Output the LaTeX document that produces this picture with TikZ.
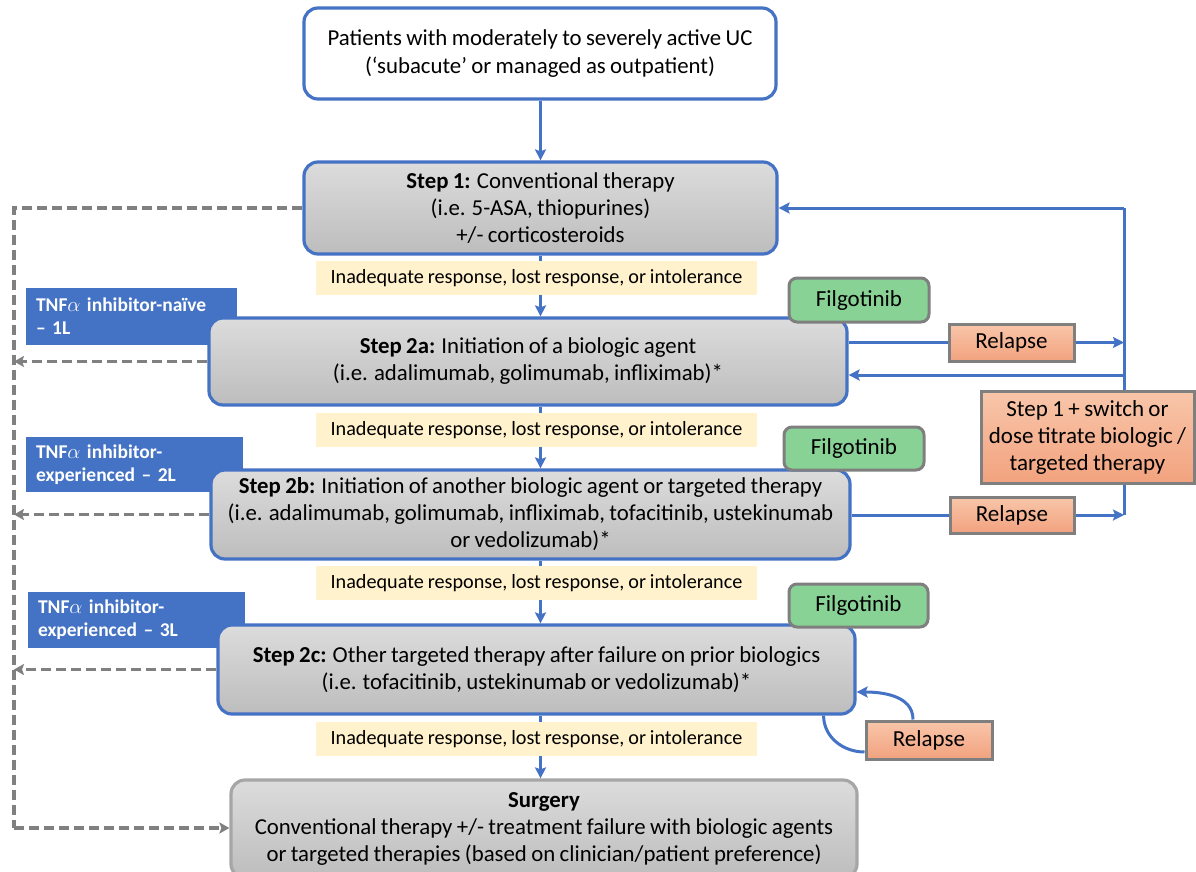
\documentclass[tikz,border=0pt]{standalone}
\usepackage{fontspec}
\setmainfont{Carlito}[WordSpace=0.85]
\usetikzlibrary{arrows.meta}
\definecolor{bl}{HTML}{4472C4}
\definecolor{gtop}{HTML}{DCDCDC}
\definecolor{gbot}{HTML}{BDBDBD}
\definecolor{ylw}{HTML}{FFF2CC}
\definecolor{grn}{HTML}{89D296}
\definecolor{edgegray}{HTML}{7F7F7F}
\definecolor{dgray}{HTML}{808080}
\definecolor{stop}{HTML}{F8C6AA}
\definecolor{sbot}{HTML}{F2A27E}
\tikzset{
  base/.style={inner sep=0pt, align=center, font=\fontsize{22.8}{27}\selectfont},
  topbox/.style={base, draw=bl, line width=3.2pt, rounded corners=14pt, fill=white, font=\fontsize{22.8}{28}\selectfont},
  stepbox/.style={base, draw=bl, line width=3.2pt, rounded corners=14pt, top color=gtop, bottom color=gbot},
  surgbox/.style={base, draw=gray!70, line width=3.2pt, rounded corners=14pt, top color=gtop, bottom color=gbot},
  ylabel/.style={base, fill=ylw, minimum width=441pt, minimum height=34pt, font=\fontsize{20.2}{24}\selectfont},
  filbox/.style={base, draw=edgegray, line width=3pt, rounded corners=8pt, fill=grn, minimum width=140pt, minimum height=44pt, font=\fontsize{23}{26}\selectfont},
  relbox/.style={base, draw=edgegray, line width=3pt, top color=stop, bottom color=sbot, font=\fontsize{23}{27}\selectfont},
  tnfbox/.style={inner sep=0pt, fill=bl, text=white, align=left, font=\bfseries\fontsize{19.5}{23}\selectfont},
  barrow/.style={draw=bl, line width=3pt, -{Stealth[length=11pt,width=11pt,inset=2pt]}},
  bline/.style={draw=bl, line width=3pt},
  darrow/.style={draw=dgray, line width=3.2pt, dash pattern=on 10pt off 5pt, -{Stealth[length=10pt,width=11pt,inset=2pt]}},
  dline/.style={draw=dgray, line width=3.2pt, dash pattern=on 10pt off 5pt}
}
\begin{document}
\begin{tikzpicture}[x=1pt,y=-1pt]
\clip (0,0) rectangle (1196,872);
% main boxes
\node[topbox, minimum width=472pt, minimum height=91pt] (top) at (540,53.5)
  {Patients with moderately to severely active UC\\(‘subacute’ or managed as outpatient)};
\node[tnfbox, minimum width=211pt, minimum height=57pt, text width=191pt] (t1) at (131.5,316.5)
  {TNF$\alpha$ inhibitor-naïve\\– 1L};
\node[tnfbox, minimum width=217pt, minimum height=55pt, text width=197pt] (t2) at (134.5,464.5)
  {TNF$\alpha$ inhibitor-\\experienced – 2L};
\node[tnfbox, minimum width=217pt, minimum height=56pt, text width=197pt] (t3) at (136.5,620)
  {TNF$\alpha$ inhibitor-\\experienced – 3L};

% coordinates for connectors
\coordinate (jt) at (1124,208);
\coordinate (jm) at (1124,375);
\coordinate (jb) at (1124,515);
\coordinate (dtop) at (14,208);
\coordinate (dbot) at (14,828);

% right-hand blue return line (drawn before boxes)
\draw[bline] (jb) -- (jt);

\node[stepbox, minimum width=473pt, minimum height=92pt] (s1) at (540.5,208)
  {\textbf{Step 1:} Conventional therapy\\(i.e. 5-ASA, thiopurines)\\+/- corticosteroids};
\node[stepbox, minimum width=638pt, minimum height=87pt] (s2a) at (528,361.5)
  {\textbf{Step 2a:} Initiation of a biologic agent\\(i.e. adalimumab, golimumab, infliximab)*};
\node[stepbox, minimum width=639pt, minimum height=89pt] (s2b) at (530.5,514.5)
  {\textbf{Step 2b:} Initiation of another biologic agent or targeted therapy\\(i.e. adalimumab, golimumab, infliximab, tofacitinib, ustekinumab\\or vedolizumab)*};
\node[stepbox, minimum width=637pt, minimum height=89pt] (s2c) at (536.5,669.5)
  {\textbf{Step 2c:} Other targeted therapy after failure on prior biologics\\(i.e. tofacitinib, ustekinumab or vedolizumab)*};
\node[surgbox, minimum width=626pt, minimum height=98pt] (surg) at (544,829)
  {\textbf{Surgery}\\Conventional therapy +/- treatment failure with biologic agents\\or targeted therapies (based on clinician/patient preference)};

% vertical flow arrows
\draw[barrow] (top.south -| s1.south) -- (s1.south |- s1.north);
\draw[barrow] (s1.south) -- (s1.south |- s2a.north);
\draw[barrow] (s1.south |- s2a.south) -- (s1.south |- s2b.north);
\draw[barrow] (s1.south |- s2b.south) -- (s1.south |- s2c.north);
\draw[barrow] (s1.south |- s2c.south) -- (s1.south |- surg.north);

% response labels
\node[ylabel] (l1) at (536.5,278) {Inadequate response, lost response, or intolerance};
\node[ylabel] (l2) at (536.5,430) {Inadequate response, lost response, or intolerance};
\node[ylabel] (l3) at (536.5,583) {Inadequate response, lost response, or intolerance};
\node[ylabel] (l4) at (536.5,739) {Inadequate response, lost response, or intolerance};

% filgotinib
\node[filbox] (f1) at (859,300) {Filgotinib};
\node[filbox, minimum height=43pt] (f2) at (854,448.5) {Filgotinib};
\node[filbox, minimum width=139pt, minimum height=43pt] (f3) at (858.5,605.5) {Filgotinib};

% relapse boxes
\node[relbox, minimum width=125pt, minimum height=37pt] (r1) at (1011.5,342.5) {Relapse};
\node[relbox, minimum width=124pt, minimum height=36pt] (r2) at (1012,515) {Relapse};
\node[relbox, minimum width=126pt, minimum height=38pt] (r3) at (929,740) {Relapse};

% relapse connectors
\draw[bline] (s2a.east |- r1.west) -- (r1.west);
\draw[barrow] (r1.east) -- (r1.east -| jt);
\draw[bline] (s2b.east |- r2.west) -- (r2.west);
\draw[barrow] (r2.east) -- (r2.east -| jt);
\draw[barrow] (jt) -- (s1.east);
\draw[barrow] (jm) -- (s2a.east |- jm);
\draw[bline] ([xshift=-33pt]s2c.south east) to[out=-90,in=180] ([yshift=-12pt]r3.west);
\draw[barrow] ([xshift=-16pt]r3.north) to[out=90,in=0] ([yshift=-22.5pt]s2c.east);

\node[relbox, minimum width=213pt, minimum height=92pt] (sw) at (1087.5,437)
  {Step 1 + switch or\\dose titrate biologic /\\targeted therapy};

% dashed lines
\draw[dline] (s1.west) -- (dtop) -- (dbot);
\draw[darrow] (dbot) -- (surg.west |- dbot);
\draw[darrow] (s2a.west) -- (s2a.west -| dtop);
\draw[darrow] (s2b.west) -- (s2b.west -| dtop);
\draw[darrow] (s2c.west) -- (s2c.west -| dtop);
\end{tikzpicture}
\end{document}
